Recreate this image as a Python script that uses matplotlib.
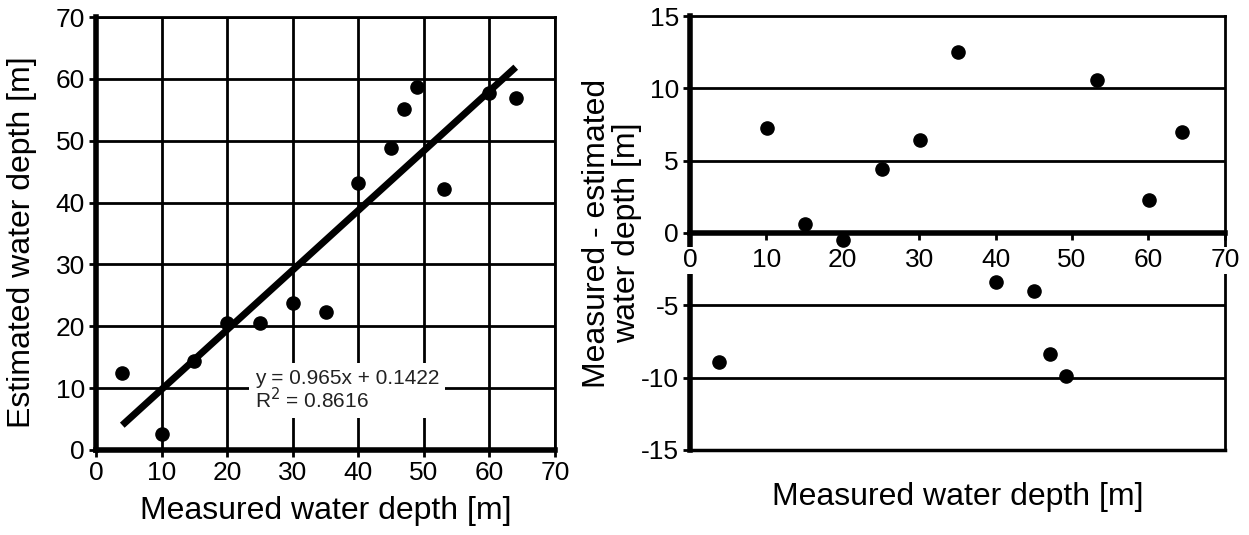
import matplotlib.pyplot as plt
import numpy as np

plt.rcParams['font.family'] = ['Liberation Sans', 'DejaVu Sans']
plt.rcParams['axes.unicode_minus'] = False

# measured vs estimated water depth
measured = [4, 10, 15, 20, 25, 30, 35, 40, 45, 47, 49, 53, 60, 64]
estimated = [12.5, 2.5, 14.4, 20.5, 20.5, 23.7, 22.3, 43.2, 48.8, 55.2, 58.7, 42.2, 57.8, 56.9]

# residual panel (measured - estimated)
resid_x = [3.8, 10.1, 15.0, 20.0, 25.1, 30.1, 35.1, 40.1, 45.0, 47.1, 49.2, 53.3, 60.1, 64.4]
resid_y = [-8.9, 7.25, 0.6, -0.5, 4.4, 6.45, 12.5, -3.4, -4.0, -8.35, -9.9, 10.6, 2.25, 7.0]

slope = 0.965
intercept = 0.1422
r2 = 0.8616

fig = plt.figure(figsize=(12.49, 5.35), dpi=100)

#----------------------------- left: estimated vs measured -----------------------------
ax1 = fig.add_axes([0.0769, 0.159, 0.3675, 0.809])
ax1.set_xlim(0, 70)
ax1.set_ylim(0, 70)
ax1.set_xticks(range(0, 71, 10))
ax1.set_yticks(range(0, 71, 10))
ax1.grid(True, color='k', lw=2)
ax1.set_axisbelow(True)

fit_x = np.array([min(measured), max(measured)])
ax1.plot(fit_x, slope * fit_x + intercept, color='k', lw=5, solid_capstyle='butt', zorder=3)
ax1.scatter(measured, estimated, s=90, color='k', zorder=4)

ax1.text(24.2, 9.6, 'y = %.3fx + %.4f\nR$^2$ = %.4f' % (slope, intercept, r2),
         fontsize=15, color='#222222', ha='left', va='center', linespacing=0.95,
         bbox=dict(facecolor='white', edgecolor='none', pad=4), zorder=5)

for side in ['top', 'right']:
    ax1.spines[side].set_linewidth(2)
for side in ['left', 'bottom']:
    ax1.spines[side].set_linewidth(4)

ax1.tick_params(axis='both', labelsize=19, width=2, length=5, color='k', pad=3)
ax1.set_xlabel('Measured water depth [m]', fontsize=23, labelpad=8)
ax1.set_ylabel('Estimated water depth [m]', fontsize=23)
ax1.yaxis.set_label_coords(-0.128, 0.48)

#----------------------------- right: residuals -----------------------------
ax2 = fig.add_axes([0.5524, 0.159, 0.4283, 0.811])
ax2.set_xlim(0, 70)
ax2.set_ylim(-15, 15)
ax2.set_xticks(range(0, 71, 10))
ax2.set_yticks(range(-15, 16, 5))
for yv in [-10, -5, 5, 10]:
    ax2.axhline(yv, color='k', lw=2, zorder=1)
ax2.axhline(-15, color='k', lw=2.5, zorder=1, clip_on=False)

ax2.scatter(resid_x, resid_y, s=90, color='k', zorder=4)

ax2.spines['bottom'].set_position(('data', 0))
ax2.spines['bottom'].set_linewidth(4)
ax2.spines['left'].set_linewidth(4)
ax2.spines['top'].set_linewidth(2)
ax2.spines['right'].set_linewidth(2)

ax2.tick_params(axis='both', labelsize=19, width=2, length=5, color='k', pad=3)
ax2.tick_params(axis='x', pad=6)
ax2.xaxis.set_zorder(3)
for lab in ax2.get_xticklabels():
    lab.set_bbox(dict(facecolor='white', edgecolor='none', pad=1))

ax2.set_ylabel('Measured - estimated\nwater depth [m]', fontsize=23, linespacing=1.0)
ax2.yaxis.set_label_coords(-0.09, 0.5)
ax2.text(0.5, -0.075, 'Measured water depth [m]', transform=ax2.transAxes,
         fontsize=23, ha='center', va='top')

plt.savefig('out.png', dpi=100)
